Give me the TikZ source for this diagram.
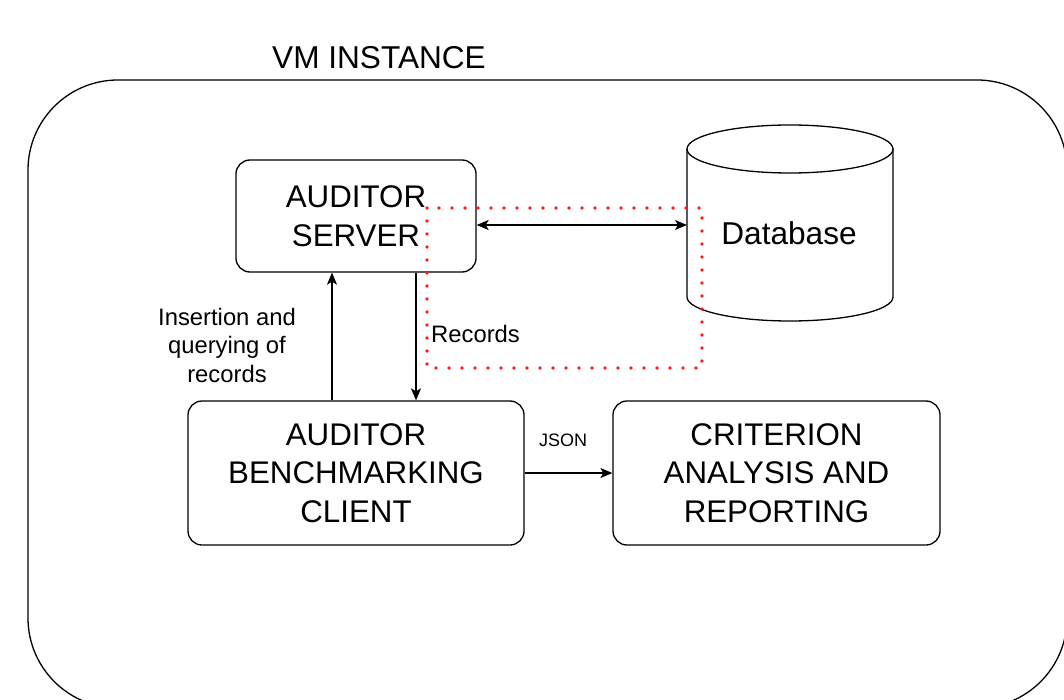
\documentclass[tikz,border=0pt]{standalone}
\usepackage{fontspec}
\setmainfont{Liberation Sans}
\usetikzlibrary{arrows.meta}
\begin{document}
\begin{tikzpicture}[x=1pt,y=-1pt,
  box/.style={draw, line width=1.3pt, rounded corners=14pt, align=center,
    inner sep=0pt, font=\fontsize{31.3}{38.5}\selectfont},
  conn/.style={line width=1.3pt, -{Stealth[length=12pt,width=10pt,inset=3pt]}},
  biconn/.style={line width=1.3pt, {Stealth[length=12pt,width=10pt,inset=3pt]}-{Stealth[length=12pt,width=10pt,inset=3pt]}},
  lbl/.style={font=\fontsize{23.8}{28.5}\selectfont, align=center, inner sep=0pt},
  bigtext/.style={font=\fontsize{31.6}{38}\selectfont, inner sep=0pt}]
\useasboundingbox (0,0) rectangle (1064,700);

% VM container (runs past the page edge on the right and bottom)
\begin{scope}
  \clip (0,0) rectangle (1064,700);
  \draw[line width=1.3pt, rounded corners=90pt] (28,80) rectangle (1067,708);
\end{scope}
\node[bigtext] (vmtitle) at (379,58) {VM INSTANCE};

% Components
\node[box, minimum width=240pt, minimum height=112pt] (server) at (356,216) {AUDITOR\\SERVER};
\node[box, minimum width=336pt, minimum height=144pt] (client) at (356,473) {AUDITOR\\BENCHMARKING\\CLIENT};
\node[box, minimum width=327pt, minimum height=144pt] (crit) at (776.5,473) {CRITERION\\ANALYSIS AND\\REPORTING};

% Database cylinder
\draw[line width=1.3pt] (687,149) -- (687,297) arc[start angle=180, end angle=360, x radius=103pt, y radius=24pt] -- (893,149);
\draw[line width=1.3pt] (790,149) ellipse[x radius=103pt, y radius=24pt];
\node[bigtext] (db) at (789,233) {Database};
\coordinate (dbW) at (687,225);

% Highlighted region
\draw[red!90!white, line width=3.6pt, line cap=round, dash pattern=on 0pt off 13pt] (427,208) rectangle (702,368);

% Connectors
\draw[biconn] ([yshift=-9pt]server.east) -- (dbW);
\draw[conn] ([xshift=-24pt]client.north) -- ([xshift=-24pt]server.south);
\draw[conn] ([xshift=60pt]server.south) -- ([xshift=60pt]client.north);
\draw[conn] (client.east) -- (crit.west);

% Connector labels
\node[lbl] (ins) at (227,345) {Insertion and\\querying of\\records};
\node[lbl, anchor=west] (rec) at (431,334) {Records};
\node[font=\fontsize{18}{22}\selectfont, inner sep=0pt] (json) at (563,440) {JSON};
\end{tikzpicture}
\end{document}
